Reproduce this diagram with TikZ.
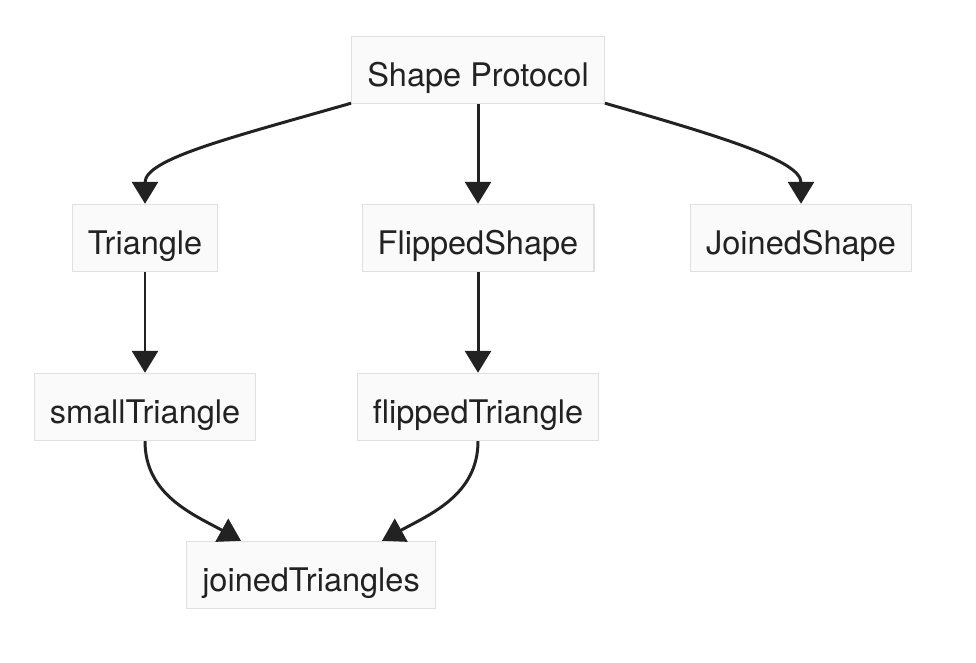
\documentclass[tikz,border=0pt]{standalone}
\usepackage{fontspec}
\setmainfont{TeX Gyre Heros}
\usetikzlibrary{arrows.meta}
\definecolor{boxfill}{HTML}{FAFAFA}
\definecolor{boxline}{HTML}{E0E0E0}
\definecolor{ink}{HTML}{222222}
\begin{document}
\begin{tikzpicture}[>={Triangle[length=0.44cm, width=0.52cm]},
    every node/.style={rectangle, draw=boxline, fill=boxfill, line width=0.8pt, text=ink,
      minimum height=1.34cm, inner xsep=0.31cm, text height=0.66cm, text depth=0cm,
      font=\fontsize{18.5pt}{22pt}\selectfont},
    edge/.style={->, draw=ink, line width=1.7pt}]

    \useasboundingbox (0,0) rectangle (19.52,-13.24);

    % Nodes
    \node (proto) at (9.56,-1.40) {Shape Protocol};
    \node (tri) at (2.90,-4.76) {Triangle};
    \node (flip) at (9.56,-4.76) {FlippedShape};
    \node (joinS) at (16.02,-4.76) {JoinedShape};
    \node (small) at (2.90,-8.14) {smallTriangle};
    \node (flipT) at (9.56,-8.14) {flippedTriangle};
    \node (joinT) at (6.22,-11.50) {joinedTriangles};

    % Edges
    \draw[edge] ([yshift=0.02cm]proto.south west) to[out=196, in=90, out looseness=1.4, in looseness=0.5] (tri.north);
    \draw[edge] (proto.south) -- (flip.north);
    \draw[edge] ([yshift=0.02cm]proto.south east) to[out=-16, in=90, out looseness=1.4, in looseness=0.5] (joinS.north);
    \draw[edge] (tri.south) -- (small.north);
    \draw[edge] (flip.south) -- (flipT.north);
    \draw[edge] (small.south) to[out=-90, in=151] ([xshift=-1.40cm]joinT.north);
    \draw[edge] (flipT.south) to[out=-90, in=29] ([xshift=1.42cm]joinT.north);
  \end{tikzpicture}
\end{document}
